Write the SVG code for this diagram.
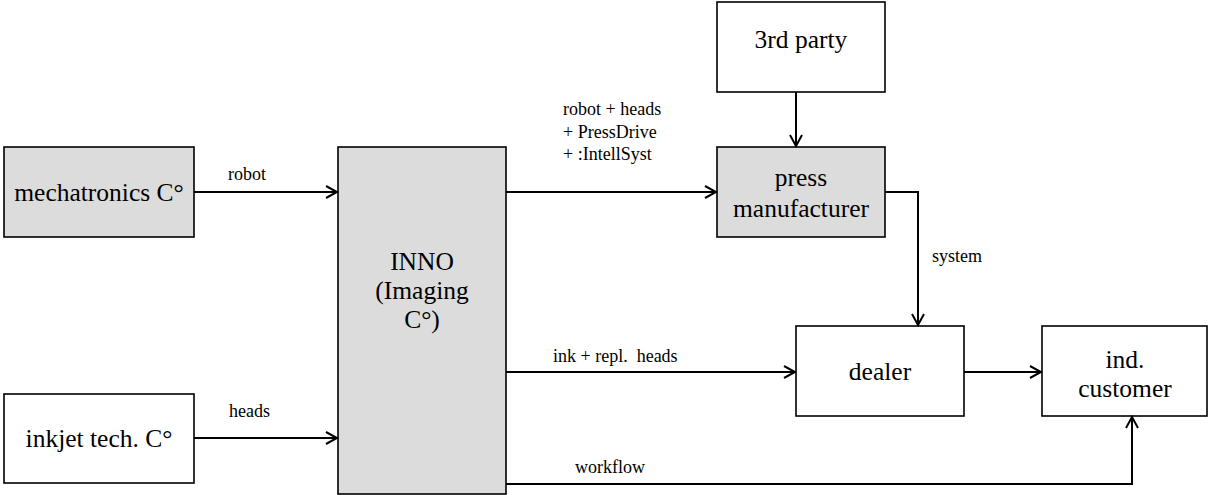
<svg xmlns="http://www.w3.org/2000/svg" width="1209" height="495" viewBox="0 0 1209 495">
  <style>
    .box { stroke: #000; stroke-width: 1.6; }
    .grey { fill: #dcdcdc; }
    .white { fill: #fff; }
    text { font-family: 'Liberation Serif', 'Times New Roman', serif; fill: #000; }
    .name { font-size: 25.5px; text-anchor: middle; }
    .flow { font-size: 18px; white-space: pre; }
    .link { fill: none; stroke: #000; stroke-width: 2; }
  </style>
  <defs>
    <marker id="open" viewBox="0 0 14 14" refX="12" refY="7" markerWidth="14" markerHeight="14" markerUnits="userSpaceOnUse" orient="auto">
      <path d="M1,1 L12,7 L1,13" fill="none" stroke="#000" stroke-width="2"/>
    </marker>
  </defs>
  <rect width="1209" height="495" fill="#fff"/>

  <!-- suppliers -->
  <g id="mechatronics">
    <rect class="box grey" x="4" y="147" width="190" height="90"/>
    <text class="name" x="99" y="201">mechatronics C°</text>
  </g>
  <g id="inkjet">
    <rect class="box white" x="4" y="394" width="190" height="89"/>
    <text class="name" x="99" y="447">inkjet tech. C°</text>
  </g>

  <!-- integrator -->
  <g id="inno">
    <rect class="box grey" x="338" y="147" width="168" height="347"/>
    <text class="name" x="422" y="270">INNO</text>
    <text class="name" x="422" y="299">(Imaging</text>
    <text class="name" x="422" y="328">C°)</text>
  </g>

  <g id="third-party">
    <rect class="box white" x="717" y="2" width="168" height="90"/>
    <text class="name" x="801" y="48">3rd party</text>
  </g>
  <g id="press">
    <rect class="box grey" x="717" y="147" width="168" height="90"/>
    <text class="name" x="801" y="186">press</text>
    <text class="name" x="801" y="217">manufacturer</text>
  </g>

  <!-- sales channel -->
  <g id="dealer">
    <rect class="box white" x="796" y="326" width="168" height="90"/>
    <text class="name" x="880" y="380">dealer</text>
  </g>
  <g id="customer">
    <rect class="box white" x="1042" y="326" width="165" height="90"/>
    <text class="name" x="1125" y="368">ind.</text>
    <text class="name" x="1125" y="397">customer</text>
  </g>

  <g id="connectors">
    <path class="link" d="M194,192 H337" marker-end="url(#open)"/>
    <path class="link" d="M194,438 H337" marker-end="url(#open)"/>
    <path class="link" d="M506,192 H716" marker-end="url(#open)"/>
    <path class="link" d="M796,92 V146" marker-end="url(#open)"/>
    <path class="link" d="M885,192 H918 V325" marker-end="url(#open)"/>
    <path class="link" d="M506,372 H795" marker-end="url(#open)"/>
    <path class="link" d="M964,372 H1041" marker-end="url(#open)"/>
    <path class="link" d="M506,484 H1132 V417" marker-end="url(#open)"/>

    <text class="flow" x="228" y="180">robot</text>
    <text class="flow" x="229" y="417">heads</text>
    <text class="flow" x="563" y="115">robot + heads</text>
    <text class="flow" x="563" y="138">+ PressDrive</text>
    <text class="flow" x="563" y="160">+ :IntellSyst</text>
    <text class="flow" x="932" y="262">system</text>
    <text class="flow" x="553" y="362">ink + repl.  heads</text>
    <text class="flow" x="575" y="473">workflow</text>
  </g>
</svg>
